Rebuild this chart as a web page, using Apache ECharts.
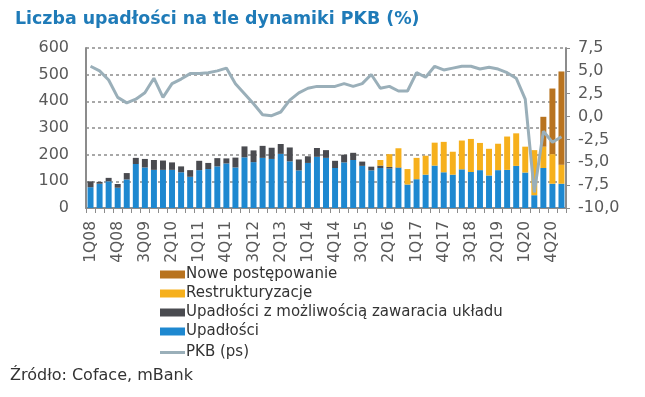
<!DOCTYPE html>
<html><head><meta charset="utf-8">
<script src="https://cdn.jsdelivr.net/npm/echarts@6/dist/echarts.min.js"></script>
<style>html,body{margin:0;padding:0;background:#fff}#c{width:645px;height:397px}</style>
</head><body><div id="c"></div>
<script>
const categories = ["1Q08","2Q08","3Q08","4Q08","1Q09","2Q09","3Q09","4Q09","1Q10","2Q10","3Q10","4Q10",
"1Q11","2Q11","3Q11","4Q11","1Q12","2Q12","3Q12","4Q12","1Q13","2Q13","3Q13","4Q13",
"1Q14","2Q14","3Q14","4Q14","1Q15","2Q15","3Q15","4Q15","1Q16","2Q16","3Q16","4Q16",
"1Q17","2Q17","3Q17","4Q17","1Q18","2Q18","3Q18","4Q18","1Q19","2Q19","3Q19","4Q19",
"1Q20","2Q20","3Q20","4Q20","1Q21"];
const upadlosci = [78,91,100,76,107,165,152,143,143,143,134,117,142,146,156,167,152,190,172,188,184,203,175,141,169,192,188,150,171,180,158,141,150,148,150,88,108,125,159,134,125,145,135,142,122,142,143,158,133,48,150,91,91];
const uklad = [22,7,13,14,24,23,32,37,35,28,22,25,35,23,31,19,37,41,44,45,42,37,52,41,25,33,29,27,29,27,16,14,9,6,2,0,0,0,0,0,0,0,0,0,0,0,0,0,0,0,0,0,0];
const restrukturyzacje = [0,0,0,0,0,0,0,0,0,0,0,0,0,0,0,0,0,0,0,0,0,0,0,0,0,0,0,0,0,0,0,0,21,48,72,58,80,71,86,114,86,108,124,102,100,99,125,122,97,169,80,111,71];
const nowe = [0,0,0,0,0,0,0,0,0,0,0,0,0,0,0,0,0,0,0,0,0,0,0,0,0,0,0,0,0,0,0,0,0,0,0,0,0,0,0,0,0,0,0,0,0,0,0,0,0,0,112,246,350];
const pkb = [5.5,5.0,4.0,2.1,1.5,1.9,2.6,4.2,2.1,3.6,4.1,4.7,4.7,4.8,5.0,5.3,3.6,2.5,1.4,0.2,0.1,0.5,1.8,2.6,3.1,3.3,3.3,3.3,3.6,3.3,3.6,4.6,3.1,3.3,2.8,2.8,4.8,4.3,5.5,5.1,5.3,5.5,5.5,5.2,5.4,5.2,4.8,4.2,1.9,-8.3,-1.6,-2.8,-2.2];
const leftTicks = {min:0, max:600, interval:100};
const rightTicks = {min:-10, max:7.5, interval:2.5};

const FONT = 'DejaVu Sans';
const chart = echarts.init(document.getElementById('c'), null, {renderer:'canvas'});
const labelColor = '#595959';
const legendText = {fontFamily:FONT, fontSize:15, color:'#333', padding:[0,0,0,-4]};
chart.setOption({
  animation:false,
  textStyle:{fontFamily:FONT},
  title:{text:'Liczba upadłości na tle dynamiki PKB (%)', left:10, top:6,
    textStyle:{fontFamily:FONT, fontSize:17.4, fontWeight:'bold', color:'#1f7bb8'}},
  graphic:[{type:'text', left:10, top:368, style:{text:'Źródło: Coface, mBank', fontFamily:FONT, fontSize:16, fill:'#333'}}],
  legend:[
    {orient:'vertical', left:160, top:267, itemWidth:25, itemHeight:8, itemGap:4, padding:0,
      textStyle:legendText,
      data:[{name:'Nowe postępowanie', icon:'rect'},{name:'Restrukturyzacje', icon:'rect'},
        {name:'Upadłości z możliwością zawaracia układu', icon:'rect'},{name:'Upadłości', icon:'rect'}]},
    {orient:'vertical', left:160, top:345, itemWidth:25, itemHeight:3, padding:0,
      textStyle:legendText,
      data:[{name:'PKB (ps)', icon:'rect'}]}
  ],
  grid:{left:86, right:79, top:48, bottom:189},
  xAxis:{type:'category', data:categories, boundaryGap:true,
    axisLine:{lineStyle:{color:'#8c8c8c', width:2}},
    axisTick:{show:true, interval:0, length:5, lineStyle:{color:'#8c8c8c', width:1}},
    axisLabel:{interval:2, rotate:90, fontSize:15.5, color:labelColor, margin:13, fontFamily:FONT}},
  yAxis:[
    {type:'value', min:leftTicks.min, max:leftTicks.max, interval:leftTicks.interval,
      axisLine:{show:true, lineStyle:{color:'#8c8c8c', width:2}}, axisTick:{show:false},
      splitLine:{lineStyle:{color:'#8c8c8c', type:[3,3], width:1.5}},
      axisLabel:{fontSize:16, color:labelColor, margin:17, fontFamily:FONT}},
    {type:'value', min:rightTicks.min, max:rightTicks.max, interval:rightTicks.interval, position:'right',
      axisLine:{show:true, lineStyle:{color:'#8c8c8c', width:2}},
      axisTick:{show:true, length:4, lineStyle:{color:'#8c8c8c'}},
      splitLine:{show:false},
      axisLabel:{fontSize:16, color:labelColor, margin:12, fontFamily:FONT,
        formatter:v=>v.toFixed(1).replace('.',',')}}
  ],
  series:[
    {name:'Upadłości', type:'bar', stack:'a', data:upadlosci, barCategoryGap:'34%', itemStyle:{color:'#1e88d0'}},
    {name:'Upadłości z możliwością zawaracia układu', type:'bar', stack:'a', data:uklad, itemStyle:{color:'#4a4b50'}},
    {name:'Restrukturyzacje', type:'bar', stack:'a', data:restrukturyzacje, itemStyle:{color:'#f6b01c'}},
    {name:'Nowe postępowanie', type:'bar', stack:'a', data:nowe, itemStyle:{color:'#b8731f'}},
    {name:'PKB (ps)', type:'line', yAxisIndex:1, data:pkb, symbol:'none', smooth:false,
      lineStyle:{color:'#9aafb9', width:3}, itemStyle:{color:'#9aafb9'}, z:5}
  ]
});
</script></body></html>
